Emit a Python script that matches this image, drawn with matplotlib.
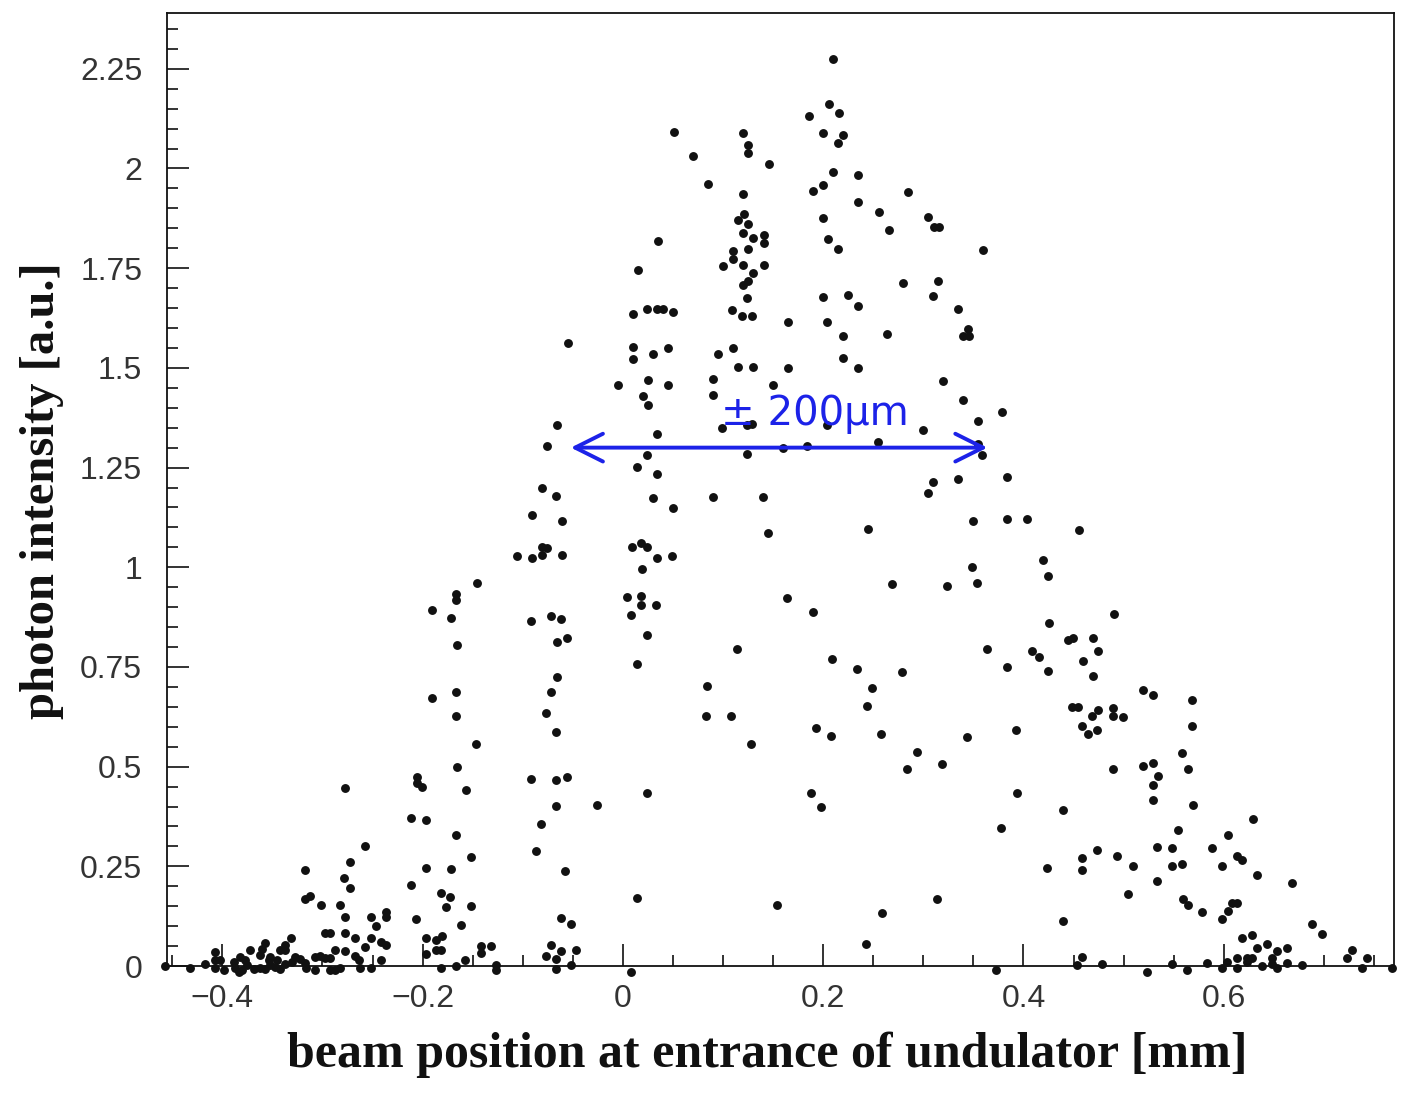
import matplotlib
matplotlib.use("Agg")
import matplotlib.pyplot as plt
from matplotlib.ticker import MultipleLocator, FixedLocator, FuncFormatter
import numpy as np

# (beam position [mm], photon intensity [a.u.]) measured shot by shot
core_top = np.array([
    (0.210, 2.275), (0.206, 2.162), (0.186, 2.132), (0.216, 2.138), (0.200, 2.089), (0.220, 2.085),
    (0.215, 2.065), (0.051, 2.092), (0.120, 2.090), (0.125, 2.058), (0.125, 2.038), (0.146, 2.010),
    (0.070, 2.031), (0.085, 1.961), (0.210, 1.991), (0.235, 1.983), (0.200, 1.959), (0.190, 1.944),
    (0.285, 1.941), (0.235, 1.917), (0.256, 1.890), (0.200, 1.876), (0.305, 1.878), (0.311, 1.853),
    (0.316, 1.853), (0.266, 1.845), (0.205, 1.823), (0.215, 1.798), (0.360, 1.796), (0.120, 1.935),
    (0.121, 1.885), (0.115, 1.872), (0.125, 1.862), (0.120, 1.837), (0.130, 1.825), (0.141, 1.832),
    (0.141, 1.812), (0.110, 1.794), (0.125, 1.799), (0.110, 1.774), (0.100, 1.756), (0.120, 1.759),
    (0.141, 1.757), (0.130, 1.739), (0.125, 1.719), (0.120, 1.707), (0.124, 1.674), (0.109, 1.646),
    (0.119, 1.629), (0.129, 1.631), (0.165, 1.614), (0.035, 1.818), (0.015, 1.746), (0.010, 1.635),
    (0.024, 1.648), (0.034, 1.648), (0.040, 1.648), (0.050, 1.640), (-0.055, 1.562), (0.010, 1.552),
    (0.010, 1.522), (0.030, 1.535), (0.045, 1.550), (-0.005, 1.456), (0.025, 1.470), (0.045, 1.457),
    (0.090, 1.471), (0.095, 1.534), (0.110, 1.549), (0.115, 1.501), (0.130, 1.501), (0.165, 1.500),
    (0.150, 1.456), (0.200, 1.678), (0.225, 1.682), (0.235, 1.654), (0.204, 1.615), (0.220, 1.579),
    (0.220, 1.524), (0.235, 1.499), (0.264, 1.586), (0.280, 1.713), (0.315, 1.718), (0.310, 1.680),
    (0.335, 1.648), (0.345, 1.598), (0.340, 1.580), (0.346, 1.580), (0.320, 1.467),
])

core_mid = np.array([
    (0.020, 1.430), (0.025, 1.407), (0.090, 1.432), (0.099, 1.348), (0.124, 1.356), (0.129, 1.358),
    (0.204, 1.357), (0.340, 1.420), (0.355, 1.367), (0.300, 1.344), (0.034, 1.334), (0.255, 1.313),
    (0.184, 1.304), (0.160, 1.300), (0.355, 1.309), (0.359, 1.282), (0.024, 1.282), (0.124, 1.285),
    (0.014, 1.251), (0.034, 1.234), (0.310, 1.214), (0.305, 1.186), (0.335, 1.221), (0.030, 1.174),
    (0.050, 1.149), (0.090, 1.177), (0.140, 1.177), (0.350, 1.116), (0.145, 1.085), (0.245, 1.095),
    (0.009, 1.051), (0.018, 1.061), (0.024, 1.051), (0.034, 1.023), (0.049, 1.028), (0.019, 0.996),
    (0.349, 1.001), (0.269, 0.957), (0.324, 0.953), (0.354, 0.961), (0.004, 0.925), (0.018, 0.928),
    (0.018, 0.905), (0.033, 0.905), (0.164, 0.922), (0.008, 0.880), (0.190, 0.889), (0.024, 0.830),
    (0.014, 0.757), (0.114, 0.794), (0.209, 0.770), (0.234, 0.744), (0.279, 0.737), (0.364, 0.795),
])

core_low = np.array([
    (0.084, 0.701), (0.083, 0.626), (0.108, 0.626), (0.128, 0.558), (0.249, 0.696), (0.244, 0.653),
    (0.193, 0.597), (0.208, 0.577), (0.258, 0.583), (0.344, 0.574), (0.294, 0.537), (0.284, 0.494),
    (0.319, 0.507), (-0.026, 0.404), (0.024, 0.434), (0.188, 0.434), (0.198, 0.398), (0.014, 0.171),
    (0.154, 0.154), (0.314, 0.168), (0.259, 0.134), (0.243, 0.054), (-0.047, 0.040), (0.008, -0.015),
])

right_wing = np.array([
    (0.379, 1.389), (0.384, 1.226), (0.384, 1.121), (0.404, 1.122), (0.455, 1.093), (0.419, 1.019),
    (0.424, 0.977), (0.490, 0.883), (0.425, 0.859), (0.444, 0.818), (0.449, 0.823), (0.469, 0.823),
    (0.474, 0.790), (0.459, 0.765), (0.409, 0.791), (0.415, 0.774), (0.384, 0.750), (0.424, 0.739),
    (0.469, 0.727), (0.519, 0.692), (0.529, 0.680), (0.568, 0.668), (0.448, 0.650), (0.454, 0.650),
    (0.474, 0.641), (0.468, 0.626), (0.489, 0.648), (0.489, 0.628), (0.499, 0.624), (0.458, 0.603),
    (0.464, 0.581), (0.473, 0.593), (0.393, 0.592), (0.568, 0.603), (0.558, 0.535), (0.489, 0.494),
    (0.519, 0.502), (0.529, 0.509), (0.564, 0.493), (0.534, 0.477), (0.529, 0.454), (0.529, 0.416),
    (0.569, 0.403), (0.394, 0.435), (0.439, 0.391), (0.378, 0.347), (0.629, 0.369), (0.554, 0.340),
    (0.604, 0.329), (0.533, 0.298), (0.548, 0.296), (0.588, 0.296), (0.613, 0.277), (0.618, 0.265),
    (0.473, 0.291), (0.458, 0.272), (0.493, 0.276), (0.458, 0.242), (0.509, 0.251), (0.548, 0.250),
    (0.558, 0.255), (0.598, 0.250), (0.633, 0.228), (0.423, 0.245), (0.533, 0.213), (0.504, 0.181),
    (0.668, 0.208), (0.559, 0.169), (0.564, 0.152), (0.578, 0.135), (0.608, 0.159), (0.613, 0.159),
    (0.604, 0.139), (0.598, 0.119), (0.439, 0.113), (0.688, 0.105), (0.698, 0.080), (0.618, 0.071),
    (0.628, 0.079), (0.643, 0.054), (0.633, 0.044), (0.663, 0.045), (0.653, 0.038), (0.723, 0.021),
    (0.728, 0.039), (0.743, 0.019), (0.458, 0.023), (0.453, 0.003), (0.478, 0.004), (0.548, 0.005),
    (0.583, 0.008), (0.613, 0.021), (0.623, 0.021), (0.628, 0.021), (0.623, 0.009), (0.603, 0.009),
    (0.648, 0.021), (0.648, 0.004), (0.653, -0.004), (0.663, 0.008), (0.678, 0.003), (0.638, -0.001),
    (0.613, -0.004), (0.598, -0.006), (0.563, -0.010), (0.523, -0.015), (0.373, -0.011),
    (0.738, -0.005), (0.768, -0.005),
])

left_wing = np.array([
    (-0.066, 1.357), (-0.076, 1.304), (-0.081, 1.199), (-0.067, 1.179), (-0.091, 1.130),
    (-0.061, 1.116), (-0.081, 1.050), (-0.076, 1.048), (-0.106, 1.027), (-0.091, 1.024),
    (-0.081, 1.031), (-0.061, 1.031),
    (-0.146, 0.961), (-0.167, 0.933), (-0.167, 0.918), (-0.191, 0.894), (-0.172, 0.873),
    (-0.166, 0.805), (-0.167, 0.687), (-0.167, 0.627), (-0.191, 0.673), (-0.147, 0.557),
    (-0.166, 0.499), (-0.157, 0.441), (-0.167, 0.329), (-0.152, 0.273), (-0.172, 0.243),
    (-0.182, 0.184), (-0.173, 0.172), (-0.177, 0.147), (-0.152, 0.150), (-0.162, 0.103),
    (-0.181, 0.076), (-0.187, 0.064), (-0.187, 0.039), (-0.182, 0.039), (-0.197, 0.071),
    (-0.197, 0.031), (-0.207, 0.118), (-0.212, 0.371), (-0.206, 0.475), (-0.206, 0.460),
    (-0.201, 0.448), (-0.197, 0.367), (-0.197, 0.247), (-0.212, 0.203), (-0.182, -0.004),
    (-0.167, 0.000), (-0.158, 0.015), (-0.132, 0.050), (-0.142, 0.050), (-0.142, 0.033),
    (-0.127, 0.003), (-0.127, -0.010),
    (-0.092, 0.864), (-0.072, 0.878), (-0.062, 0.870), (-0.066, 0.813), (-0.056, 0.823),
    (-0.066, 0.725), (-0.072, 0.687), (-0.077, 0.635), (-0.067, 0.587), (-0.092, 0.469),
    (-0.067, 0.466), (-0.056, 0.474), (-0.067, 0.401), (-0.082, 0.356), (-0.087, 0.288),
    (-0.058, 0.238), (-0.062, 0.120), (-0.052, 0.105), (-0.072, 0.053), (-0.077, 0.025),
    (-0.067, 0.018), (-0.062, 0.038), (-0.067, -0.008), (-0.052, 0.003),
])

left_tail = np.array([
    (-0.277, 0.446), (-0.257, 0.301), (-0.272, 0.261), (-0.278, 0.221), (-0.272, 0.196),
    (-0.317, 0.242), (-0.317, 0.168), (-0.312, 0.176), (-0.301, 0.152), (-0.282, 0.154),
    (-0.277, 0.122), (-0.277, 0.082), (-0.297, 0.082), (-0.292, 0.084), (-0.267, 0.070),
    (-0.252, 0.123), (-0.247, 0.100), (-0.252, 0.070), (-0.257, 0.048), (-0.242, 0.060),
    (-0.237, 0.135), (-0.237, 0.123), (-0.237, 0.053), (-0.242, 0.015), (-0.267, 0.025),
    (-0.263, 0.015), (-0.277, 0.038), (-0.287, 0.039), (-0.292, 0.019), (-0.297, 0.019),
    (-0.302, 0.024), (-0.287, -0.009), (-0.292, -0.009), (-0.282, -0.006), (-0.307, -0.011),
    (-0.316, -0.006), (-0.252, -0.005), (-0.262, -0.005), (-0.331, 0.070), (-0.337, 0.053),
    (-0.337, 0.040), (-0.342, 0.040), (-0.357, 0.058), (-0.352, 0.023), (-0.362, 0.028),
    (-0.360, 0.043), (-0.372, 0.039), (-0.382, 0.022), (-0.407, 0.036), (-0.417, 0.006),
    (-0.432, -0.006), (-0.457, 0.000), (-0.407, 0.016), (-0.407, -0.006), (-0.398, -0.009),
    (-0.387, -0.004), (-0.380, -0.011), (-0.375, 0.002), (-0.368, -0.008), (-0.362, -0.006),
    (-0.357, -0.008), (-0.352, 0.003), (-0.347, -0.003), (-0.342, -0.008), (-0.337, 0.005),
    (-0.345, 0.015), (-0.327, 0.023), (-0.322, 0.018), (-0.317, 0.008), (-0.330, 0.010),
    (-0.307, 0.023), (-0.353, 0.015), (-0.377, 0.014), (-0.388, 0.009), (-0.383, -0.016),
    (-0.402, 0.014),
])

# width marker drawn by hand on the plot
width_left = -0.052
width_right = 0.364
width_level = 1.30
width_text = "± 200μm"

x_major = [-0.4, -0.2, 0.0, 0.2, 0.4, 0.6]
y_major = [0, 0.25, 0.5, 0.75, 1.0, 1.25, 1.5, 1.75, 2.0, 2.25]

pts = np.vstack([core_top, core_mid, core_low, right_wing, left_wing, left_tail])

blue = "#1c22e8"
ink = "#111111"

fig = plt.figure(figsize=(14.05, 10.99), dpi=100)
ax = fig.add_axes([0.1190, 0.1210, 0.8732, 0.8672])

ax.plot(pts[:, 0], pts[:, 1], "o", ms=6.4, color=ink, mec="none", clip_on=False, zorder=3)

ax.set_xlim(-0.455, 0.770)
ax.set_ylim(0, 2.39)

ax.xaxis.set_major_locator(FixedLocator(x_major))
ax.xaxis.set_minor_locator(MultipleLocator(0.05))
ax.yaxis.set_major_locator(FixedLocator(y_major))
ax.yaxis.set_minor_locator(MultipleLocator(0.05))
ax.yaxis.set_major_formatter(FuncFormatter(lambda v, p: f"{v:g}"))
ax.xaxis.set_major_formatter(FuncFormatter(lambda v, p: f"{v:g}".replace("-", "\u2212")))

ax.tick_params(which="both", direction="in", top=False, right=False, color=ink, width=1.2)
ax.tick_params(which="major", length=16)
ax.tick_params(which="minor", length=8)
ax.tick_params(axis="y", which="major", pad=18)
ax.tick_params(axis="x", which="major", pad=13)
for lab in ax.get_xticklabels() + ax.get_yticklabels():
    lab.set_fontfamily("Liberation Sans")
    lab.set_fontsize(23)
    lab.set_color("#333333")

for sp in ax.spines.values():
    sp.set_linewidth(1.3)
    sp.set_color(ink)

# hand-drawn width arrow and label
ax.annotate("", xy=(width_left, width_level), xytext=(width_right, width_level),
            arrowprops=dict(arrowstyle="<->,head_length=2.0,head_width=1.0",
                            lw=2.8, color=blue, shrinkA=0, shrinkB=0))
ax.text(0.098, 1.356, width_text, color=blue, fontsize=29, ha="left", va="baseline",
        family="DejaVu Sans")

fig.text(0.546, 0.040, "beam position at entrance of undulator [mm]",
         family="Liberation Serif", fontweight="bold", fontsize=36,
         ha="center", va="center", color=ink)
fig.text(0.030, 0.554, "photon intensity [a.u.]",
         family="Liberation Serif", fontweight="bold", fontsize=35,
         rotation=90, ha="center", va="center", color=ink)

fig.savefig("out.png", dpi=100)
